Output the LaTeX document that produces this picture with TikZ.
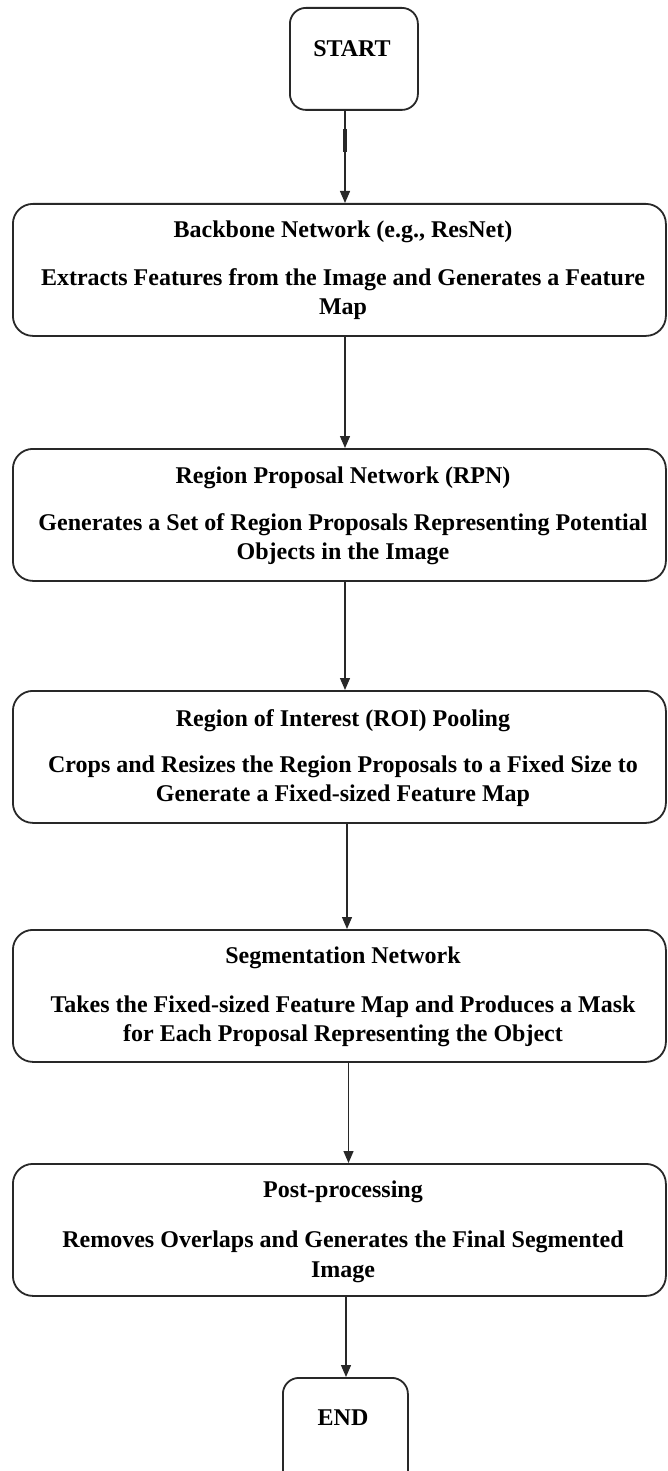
\documentclass[tikz,border=0pt]{standalone}
\usepackage{fontspec}
\setmainfont{Liberation Serif}
\usetikzlibrary{arrows.meta}
\definecolor{ln}{RGB}{40,40,40}
\tikzset{
  box/.style={draw=ln, line width=1.8pt, rounded corners=20pt, inner sep=0pt, minimum width=653pt, minimum height=132pt, anchor=north west},
  term/.style={draw=ln, line width=1.8pt, rounded corners=16pt, inner sep=0pt, anchor=north west},
  txt/.style={anchor=base, inner sep=0pt, font=\bfseries\fontsize{24}{30}\selectfont},
  arr/.style={draw=ln, line width=1.3pt, -{Triangle[length=12pt,width=10pt]}}
}
\begin{document}
\begin{tikzpicture}[x=1pt,y=1pt]
\useasboundingbox (0,0) rectangle (668,-1471);
\clip (0,0) rectangle (668,-1471);
\fill[white] (0,0) rectangle (668,-1471);
% terminals
\node[term, minimum width=128pt, minimum height=102pt] (start) at (289,-7) {};
\node[txt] (tstart) at (352,-57) {START};
\node[term, minimum width=125pt, minimum height=120pt] (end) at (282,-1377) {};
\node[txt] (tend) at (343,-1425) {END};
% boxes
\node[box] (b1) at (12,-203) {};
\node[txt] (t1a) at (343,-238) {Backbone Network (e.g., ResNet)};
\node[txt] (t1b) at (343,-285) {Extracts Features from the Image and Generates a Feature};
\node[txt] (t1c) at (343,-314) {Map};
\node[box] (b2) at (12,-448) {};
\node[txt] (t2a) at (343,-483) {Region Proposal Network (RPN)};
\node[txt] (t2b) at (343,-530) {Generates a Set of Region Proposals Representing Potential};
\node[txt] (t2c) at (343,-559) {Objects in the Image};
\node[box] (b3) at (12,-690) {};
\node[txt] (t3a) at (343,-726) {Region of Interest (ROI) Pooling};
\node[txt] (t3b) at (343,-772) {Crops and Resizes the Region Proposals to a Fixed Size to};
\node[txt] (t3c) at (343,-801) {Generate a Fixed-sized Feature Map};
\node[box] (b4) at (12,-929) {};
\node[txt] (t4a) at (343,-963) {Segmentation Network};
\node[txt] (t4b) at (343,-1012) {Takes the Fixed-sized Feature Map and Produces a Mask};
\node[txt] (t4c) at (343,-1041) {for Each Proposal Representing the Object};
\node[box] (b5) at (12,-1163) {};
\node[txt] (t5a) at (343,-1197) {Post-processing};
\node[txt] (t5b) at (343,-1247) {Removes Overlaps and Generates the Final Segmented};
\node[txt] (t5c) at (343,-1277) {Image};
% arrow columns
\coordinate (xa) at (345,0);
\coordinate (xb) at (345,0);
\coordinate (xc) at (345,0);
\coordinate (xd) at (347,0);
\coordinate (xe) at (348.5,0);
\coordinate (xf) at (346,0);
\draw[arr] (start.south -| xa) -- (b1.north -| xa);
\draw[draw=ln, line width=3.2pt] ([yshift=-18pt]start.south -| xa) -- ([yshift=-41pt]start.south -| xa);
\draw[arr] (b1.south -| xb) -- (b2.north -| xb);
\draw[arr] (b2.south -| xc) -- (b3.north -| xc);
\draw[arr] (b3.south -| xd) -- (b4.north -| xd);
\draw[arr] (b4.south -| xe) -- (b5.north -| xe);
\draw[arr] (b5.south -| xf) -- (end.north -| xf);
\end{tikzpicture}
\end{document}
